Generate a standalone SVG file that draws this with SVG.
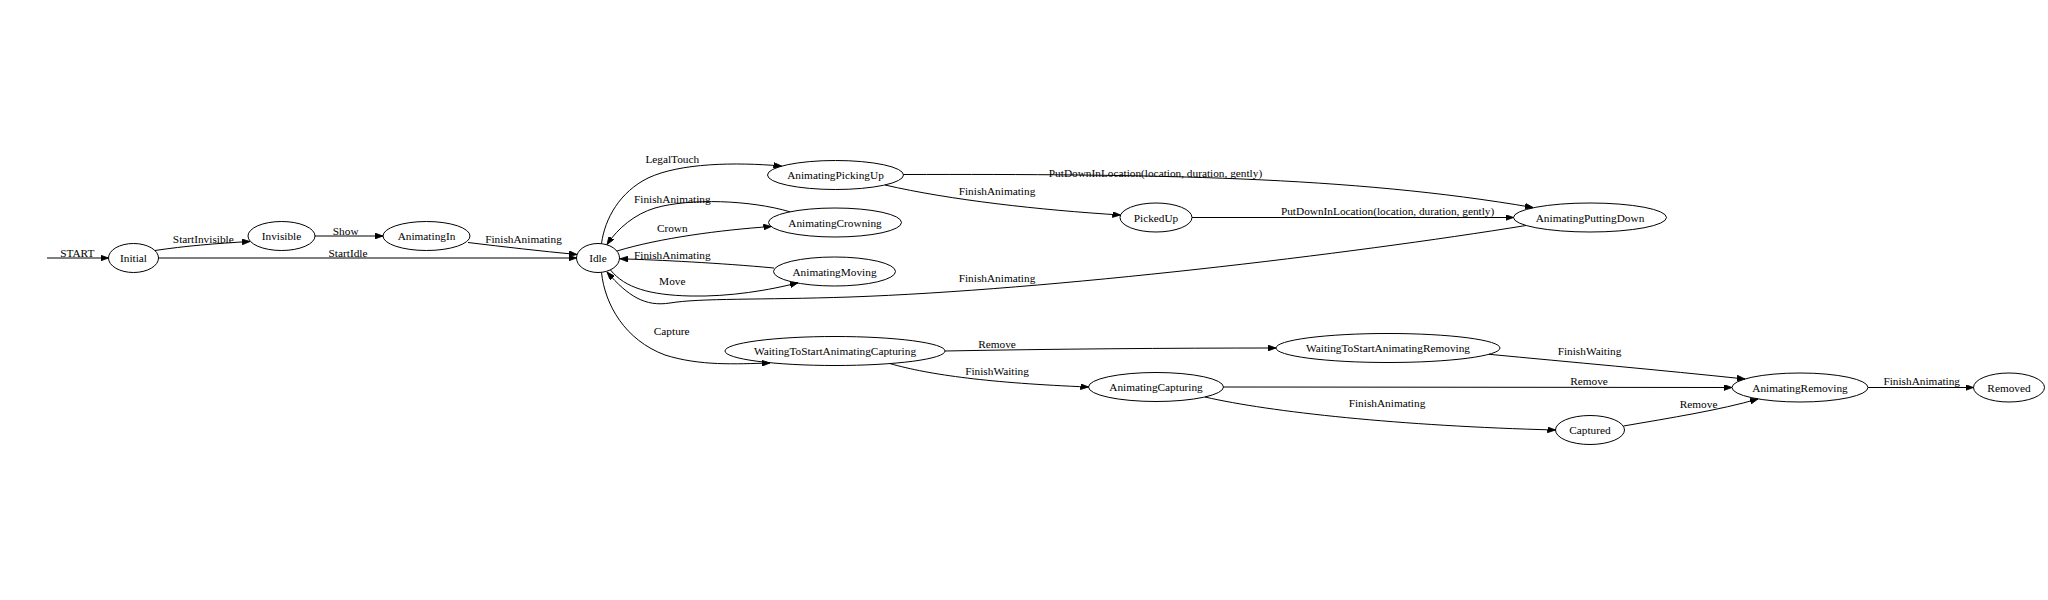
<svg xmlns="http://www.w3.org/2000/svg" width="2048" height="600" viewBox="0 0 2048 600">
<style>
text{font-family:"Liberation Serif","Times New Roman",serif;font-size:11.3px;fill:#000;text-anchor:middle}
.n ellipse{fill:none;stroke:#000;stroke-width:1}
.e path{fill:none;stroke:#000;stroke-width:1;marker-end:url(#ah)}
</style>
<defs>
<marker id="ah" markerUnits="userSpaceOnUse" markerWidth="9" markerHeight="6" refX="8" refY="2.9" orient="auto">
<path d="M0,0 L8,2.9 L0,5.8 z" fill="#000" stroke="#000" stroke-width="0.8"/>
</marker>
</defs>
<rect width="2048" height="600" fill="#fff"/>
<g id="connectors" class="e">
<path d="M47,258 L108.5,258"/>
<path d="M155,250.5 C185,246 215,243.5 250,241.5"/>
<path d="M158.5,258 L576.5,258"/>
<path d="M315,236 L383,236"/>
<path d="M468,242.5 C505,247 540,251 577,254.5"/>
<path d="M601.5,243.5 C605,218 620,192 648,178 C680,163 735,162 781.5,166"/>
<path d="M790,211.8 C750,200 690,198 655,208 C635,214 618,228 607,244.5"/>
<path d="M617,251 C660,238 720,230 771.5,226.5"/>
<path d="M774,268 C720,263 660,260 620,258.8"/>
<path d="M610.5,270 C625,288 650,295 690,296 C730,297 770,290 798,282.8"/>
<path d="M1526,225.5 C1350,254 1050,290 850,297 C760,300 700,298 670,303 C645,307 628,296 607,272"/>
<path d="M601.5,272.5 C605,305 625,340 665,355 C700,366 735,364 770,363"/>
<path d="M903.5,174.5 C1150,174 1350,176 1533,207.5"/>
<path d="M885,185 C950,200 1040,210 1120.5,215"/>
<path d="M1192,217.5 L1513.5,217.5"/>
<path d="M945,351 C1050,349 1170,348 1276,348"/>
<path d="M890,363.6 C930,375 990,383 1088.5,387"/>
<path d="M1223.5,387 L1732,387.5"/>
<path d="M1205,397 C1270,412 1400,426 1555.5,430"/>
<path d="M1489,354.3 C1570,362 1660,370 1745,379"/>
<path d="M1623.5,426 C1670,418 1720,410 1758,399"/>
<path d="M1868,387.5 L1973.5,387.5"/>
</g>
<g id="edge-labels">
<text x="77.3" y="256.5">START</text>
<text x="203.3" y="242.5">StartInvisible</text>
<text x="348" y="256.5">StartIdle</text>
<text x="345.7" y="235">Show</text>
<text x="523.5" y="242.5">FinishAnimating</text>
<text x="672.3" y="163">LegalTouch</text>
<text x="672.3" y="203">FinishAnimating</text>
<text x="672.3" y="232">Crown</text>
<text x="672.3" y="259.3">FinishAnimating</text>
<text x="672.3" y="285.3">Move</text>
<text x="671.7" y="335.3">Capture</text>
<text x="1155.5" y="176.5">PutDownInLocation(location, duration, gently)</text>
<text x="997" y="195">FinishAnimating</text>
<text x="1387.6" y="215">PutDownInLocation(location, duration, gently)</text>
<text x="997" y="282">FinishAnimating</text>
<text x="997" y="348">Remove</text>
<text x="997" y="375">FinishWaiting</text>
<text x="1589" y="385">Remove</text>
<text x="1387" y="407">FinishAnimating</text>
<text x="1589.5" y="355">FinishWaiting</text>
<text x="1698.6" y="407.5">Remove</text>
<text x="1921.7" y="385">FinishAnimating</text>
</g>
<g id="Initial" class="n"><ellipse cx="133.5" cy="258" rx="25" ry="14.5"/><text x="133.5" y="262">Initial</text></g>
<g id="Invisible" class="n"><ellipse cx="281.5" cy="236" rx="33.5" ry="14.5"/><text x="281.5" y="240">Invisible</text></g>
<g id="AnimatingIn" class="n"><ellipse cx="426.5" cy="236" rx="43.5" ry="14.5"/><text x="426.5" y="240">AnimatingIn</text></g>
<g id="Idle" class="n"><ellipse cx="598" cy="258" rx="21.5" ry="14.5"/><text x="598" y="262">Idle</text></g>
<g id="AnimatingPickingUp" class="n"><ellipse cx="835.5" cy="175" rx="68" ry="14.5"/><text x="835.5" y="179">AnimatingPickingUp</text></g>
<g id="AnimatingCrowning" class="n"><ellipse cx="835" cy="222.5" rx="66.5" ry="14.5"/><text x="835" y="226.5">AnimatingCrowning</text></g>
<g id="AnimatingMoving" class="n"><ellipse cx="834.5" cy="271.5" rx="61" ry="14.5"/><text x="834.5" y="275.5">AnimatingMoving</text></g>
<g id="PickedUp" class="n"><ellipse cx="1156" cy="217.5" rx="36" ry="14.5"/><text x="1156" y="221.5">PickedUp</text></g>
<g id="AnimatingPuttingDown" class="n"><ellipse cx="1590" cy="217.5" rx="76.5" ry="14.5"/><text x="1590" y="221.5">AnimatingPuttingDown</text></g>
<g id="WaitingToStartAnimatingCapturing" class="n"><ellipse cx="835" cy="351" rx="110" ry="14.5"/><text x="835" y="355">WaitingToStartAnimatingCapturing</text></g>
<g id="AnimatingCapturing" class="n"><ellipse cx="1156" cy="387" rx="67.5" ry="14.5"/><text x="1156" y="391">AnimatingCapturing</text></g>
<g id="WaitingToStartAnimatingRemoving" class="n"><ellipse cx="1388" cy="348" rx="112" ry="14.5"/><text x="1388" y="352">WaitingToStartAnimatingRemoving</text></g>
<g id="Captured" class="n"><ellipse cx="1590" cy="430" rx="34.5" ry="14.5"/><text x="1590" y="434">Captured</text></g>
<g id="AnimatingRemoving" class="n"><ellipse cx="1800" cy="387.5" rx="68" ry="14.5"/><text x="1800" y="391.5">AnimatingRemoving</text></g>
<g id="Removed" class="n"><ellipse cx="2009" cy="387.5" rx="35.5" ry="14.5"/><text x="2009" y="391.5">Removed</text></g>
</svg>
